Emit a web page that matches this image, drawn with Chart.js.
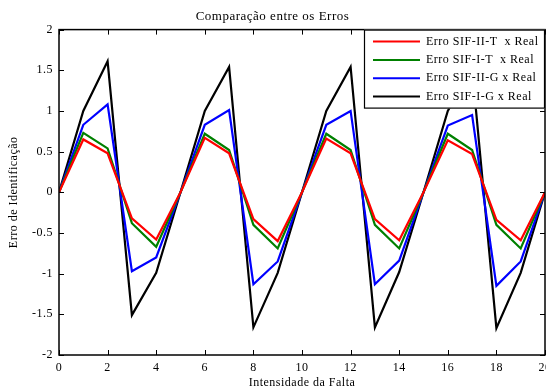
<!DOCTYPE html>
<html>
<head>
<meta charset="utf-8">
<script src="https://cdn.jsdelivr.net/npm/chart.js@4"></script>
<style>
  html, body { margin: 0; padding: 0; background: #fff; }
  #wrap { width: 546px; height: 390px; }
</style>
</head>
<body>
<div id="wrap"><canvas id="errChart" width="546" height="390"></canvas></div>
<script>
// dados
const intensidade = [0, 1, 2, 3, 4, 5, 6, 7, 8, 9, 10, 11, 12, 13, 14, 15, 16, 17, 18, 19, 20];
const erroSIF2T = [0, 0.65, 0.48, -0.32, -0.58, 0, 0.67, 0.48, -0.33, -0.60, 0, 0.66, 0.48, -0.33, -0.59, 0, 0.64, 0.47, -0.34, -0.59, 0];
const erroSIF1T = [0, 0.73, 0.54, -0.38, -0.67, 0, 0.72, 0.52, -0.40, -0.69, 0, 0.72, 0.52, -0.40, -0.69, 0, 0.72, 0.52, -0.40, -0.69, 0];
const erroSIF2G = [0, 0.83, 1.08, -0.97, -0.80, 0, 0.83, 1.01, -1.13, -0.85, 0, 0.83, 1.00, -1.13, -0.84, 0, 0.82, 0.95, -1.15, -0.85, 0];
const erroSIF1G = [0, 1.00, 1.61, -1.51, -0.99, 0, 1.00, 1.54, -1.66, -0.99, 0, 1.00, 1.54, -1.66, -0.98, 0, 1.00, 1.52, -1.67, -0.99, 0];
const rotulos = ["Erro SIF-II-T  x Real", "Erro SIF-I-T  x Real", "Erro SIF-II-G x Real", "Erro SIF-I-G x Real"];
const cores = ["#ff0000", "#008000", "#0000ff", "#000000"];

const serie = arr => arr.map((v, i) => ({ x: intensidade[i], y: v }));
const FONTE = "'Liberation Serif', 'Times New Roman', serif";

// caixa, ticks para dentro e legenda dentro do gráfico (estilo MATLAB)
const moldura = {
  id: "moldura",
  beforeDraw(chart) {
    chart.ctx.letterSpacing = "0.5px";
  },
  afterDatasetsDraw(chart) {
    const { ctx, chartArea: a, scales } = chart;
    ctx.save();
    ctx.strokeStyle = "#000";
    ctx.lineWidth = 1;
    const tl = 5;
    ctx.beginPath();
    scales.x.ticks.forEach(t => {
      const px = Math.round(scales.x.getPixelForValue(t.value)) + 0.5;
      ctx.moveTo(px, a.bottom); ctx.lineTo(px, a.bottom - tl);
      ctx.moveTo(px, a.top); ctx.lineTo(px, a.top + tl);
    });
    scales.y.ticks.forEach(t => {
      const py = Math.round(scales.y.getPixelForValue(t.value)) + 0.5;
      ctx.moveTo(a.left, py); ctx.lineTo(a.left + tl, py);
      ctx.moveTo(a.right, py); ctx.lineTo(a.right - tl, py);
    });
    ctx.stroke();
    ctx.lineWidth = 1.5;
    ctx.strokeRect(a.left, a.top, a.right - a.left, a.bottom - a.top);

    // legenda
    const w = 181, h = 79;
    const lx = a.right - w, ly = a.top;
    ctx.fillStyle = "#fff";
    ctx.fillRect(lx, ly, w, h);
    ctx.lineWidth = 1.2;
    ctx.strokeRect(lx + 0.5, ly + 0.5, w - 1, h - 1);
    ctx.font = "12px " + FONTE;
    ctx.textBaseline = "middle";
    chart.data.datasets.forEach((ds, i) => {
      const y = ly + 12 + i * 18.3;
      ctx.strokeStyle = ds.borderColor;
      ctx.lineWidth = 2;
      ctx.beginPath();
      ctx.moveTo(lx + 9, y); ctx.lineTo(lx + 56, y);
      ctx.stroke();
      ctx.fillStyle = "#000";
      ctx.fillText(ds.label, lx + 62, y);
    });
    ctx.restore();
  }
};

new Chart(document.getElementById("errChart"), {
  type: "line",
  data: {
    datasets: [erroSIF2T, erroSIF1T, erroSIF2G, erroSIF1G].map((arr, i) => ({
      label: rotulos[i],
      data: serie(arr),
      borderColor: cores[i],
      backgroundColor: cores[i],
      borderWidth: 2.2,
      pointRadius: 0,
      tension: 0,
      fill: false
    }))
  },
  options: {
    responsive: false,
    animation: false,
    layout: { autoPadding: false, padding: { top: 0, right: 1, bottom: 0, left: 0 } },
    plugins: {
      legend: { display: false },
      tooltip: { enabled: false },
      title: {
        display: true,
        text: "Comparação entre os Erros",
        color: "#000",
        font: { family: FONTE, size: 13, weight: "normal" },
        padding: { top: 9, bottom: 5 }
      }
    },
    scales: {
      x: {
        type: "linear",
        min: 0, max: 20,
        grid: { display: false, drawTicks: false },
        border: { display: false },
        ticks: { stepSize: 2, color: "#000", padding: 6, maxRotation: 0, font: { family: FONTE, size: 12 } },
        title: { display: true, text: "Intensidade da Falta", color: "#000", padding: { top: 0, bottom: 0 }, font: { family: FONTE, size: 12 } },
        afterFit(s) { s.height = 35; s.paddingLeft = 0; s.paddingRight = 0; }
      },
      y: {
        min: -2, max: 2,
        grid: { display: false, drawTicks: false },
        border: { display: false },
        ticks: { stepSize: 0.5, color: "#000", padding: 6, font: { family: FONTE, size: 12 }, callback: v => String(v) },
        title: { display: true, text: "Erro de Identificação", color: "#000", padding: { top: 7, bottom: 0 }, font: { family: FONTE, size: 12 } },
        afterFit(s) { s.width = 59; s.paddingTop = 0; s.paddingBottom = 0; }
      }
    }
  },
  plugins: [moldura]
});
</script>
</body>
</html>
